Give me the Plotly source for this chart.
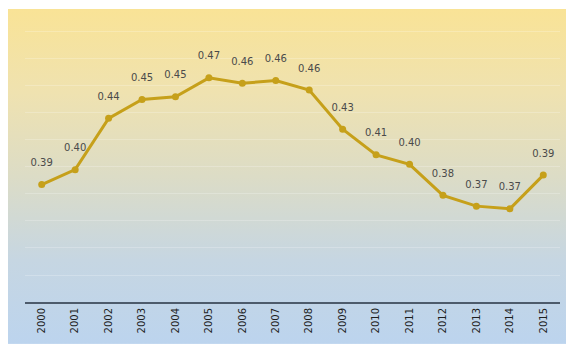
import base64

import plotly.graph_objects as go

years = [str(y) for y in range(2000, 2016)]
values = [0.387, 0.398, 0.436, 0.450, 0.452, 0.466, 0.462, 0.464,
          0.457, 0.428, 0.409, 0.402, 0.379, 0.371, 0.369, 0.394]

LINE_COLOR = "#c6a01a"
TEXT_COLOR = "#4a4a4a"

# soft yellow -> blue backdrop, drawn as an svg gradient behind the plot
svg = (
    '<svg xmlns="http://www.w3.org/2000/svg" width="100" height="100" preserveAspectRatio="none">'
    '<defs><linearGradient id="g" x1="0" y1="0" x2="0" y2="1">'
    '<stop offset="0" stop-color="#f9e396"/>'
    '<stop offset="0.25" stop-color="#efe2b0"/>'
    '<stop offset="0.5" stop-color="#dcdcc6"/>'
    '<stop offset="0.75" stop-color="#c6d6e2"/>'
    '<stop offset="1" stop-color="#bcd4ee"/>'
    '</linearGradient></defs>'
    '<rect width="100" height="100" fill="url(#g)"/></svg>'
)
bg_src = "data:image/svg+xml;base64," + base64.b64encode(svg.encode()).decode()

fig = go.Figure()
fig.add_trace(
    go.Scatter(
        x=years,
        y=values,
        mode="lines+markers",
        line=dict(color=LINE_COLOR, width=3),
        marker=dict(color=LINE_COLOR, size=7, symbol="circle"),
        hoverinfo="skip",
    )
)
# value labels: a transparent, wide marker pushes the text up above the point
fig.add_trace(
    go.Scatter(
        x=years,
        y=values,
        mode="markers+text",
        marker=dict(size=24, color="rgba(0,0,0,0)"),
        text=[f"{v:.2f}" for v in values],
        textposition="top center",
        textfont=dict(family="DejaVu Sans", size=10, color=TEXT_COLOR),
        cliponaxis=False,
        hoverinfo="skip",
    )
)

fig.update_layout(
    width=566,
    height=340,
    margin=dict(l=17, r=14, t=1, b=46),
    paper_bgcolor="white",
    plot_bgcolor="rgba(0,0,0,0)",
    showlegend=False,
    images=[
        dict(
            source=bg_src,
            xref="paper",
            yref="paper",
            x=-0.034,
            y=1.0,
            sizex=1.06,
            sizey=1.143,
            xanchor="left",
            yanchor="top",
            sizing="stretch",
            layer="below",
        )
    ],
    xaxis=dict(
        type="category",
        range=[-0.5, 15.5],
        tickangle=-90,
        tickfont=dict(family="DejaVu Sans", size=10, color="#1e1e1e"),
        showgrid=False,
        showline=True,
        linecolor="#4d5b6b",
        linewidth=2,
        ticks="",
    ),
    yaxis=dict(
        range=[0.30, 0.517],
        dtick=0.02,
        showticklabels=False,
        showgrid=True,
        gridcolor="rgba(255,255,255,0.22)",
        gridwidth=1,
        zeroline=False,
        showline=False,
    ),
)

fig.write_html("out.html")
